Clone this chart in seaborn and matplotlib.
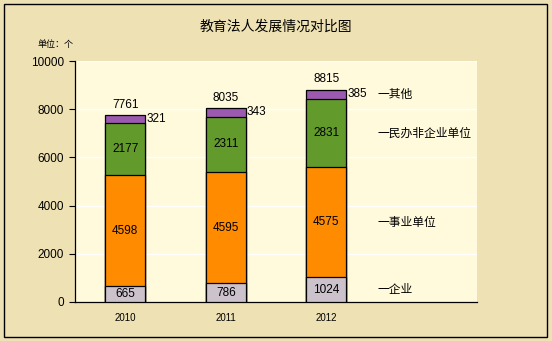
import matplotlib
matplotlib.use("Agg")
import matplotlib.pyplot as plt
import seaborn as sns
import numpy as np
import pandas as pd
from matplotlib.patches import Rectangle

years = ["2010", "2011", "2012"]
enterprise = [665, 786, 1024]          # 企业
institution = [4598, 4595, 4575]       # 事业单位
private_nonent = [2177, 2311, 2831]    # 民办非企业单位
other = [321, 343, 385]                # 其他
totals = [7761, 8035, 8815]
series_names = ["企业", "事业单位", "民办非企业单位", "其他"]
colors = ["#CCC2CC", "#FF8C00", "#639A2C", "#9B59B0"]
title = "教育法人发展情况对比图"
unit = "单位：个"

sns.set_theme(style="white")
plt.rcParams["font.family"] = ["Liberation Sans", "Noto Sans CJK SC"]
plt.rcParams["text.color"] = "black"
plt.rcParams["xtick.color"] = "black"
plt.rcParams["ytick.color"] = "black"
plt.rcParams["xtick.labelcolor"] = "black"
plt.rcParams["ytick.labelcolor"] = "black"

fig = plt.figure(figsize=(5.52, 3.41), dpi=100)
fig.patch.set_facecolor("#EEE2B4")
fig.patches.append(Rectangle((4/552, 4/341), 543/552, 333/341, transform=fig.transFigure,
                             fill=False, edgecolor="black", linewidth=1.0))
ax = fig.add_axes([75/552, 1-302/341, 402/552, 241/341])
ax.set_facecolor("#FFFADC")

series = [enterprise, institution, private_nonent, other]
cum = np.cumsum(np.array(series), axis=0)
df = pd.DataFrame({"year": years})
# draw from tallest cumulative down
for i in range(len(series) - 1, -1, -1):
    df["v"] = cum[i]
    sns.barplot(data=df, x="year", y="v", color=colors[i], width=0.4,
                edgecolor="black", linewidth=0.9, saturation=1, ax=ax, zorder=3)

ax.set_xlim(-0.5, 3.5)
ax.set_ylim(0, 10000)
ax.set_yticks(np.arange(0, 10001, 2000))
ax.set_yticklabels([str(v) for v in range(0, 10001, 2000)], fontsize=8.5)
ax.yaxis.grid(True, color="white", linewidth=1)
ax.set_axisbelow(True)
ax.set_xticks(range(3))
ax.set_xticklabels(years, fontsize=7)
ax.set_xticks(np.arange(-0.5, 3.6, 1), minor=True)
ax.tick_params(axis="x", which="major", length=0, pad=8)
ax.tick_params(axis="x", which="minor", length=4, direction="in", width=0.8, color="black")
ax.tick_params(axis="y", length=4, direction="out", width=0.8, color="black", left=True, pad=4)
ax.set_xlabel("")
ax.set_ylabel("")
for s in ["top", "right"]:
    ax.spines[s].set_visible(False)
for s in ["left", "bottom"]:
    ax.spines[s].set_color("black")
    ax.spines[s].set_linewidth(0.9)

# segment labels
for j in range(3):
    base = 0
    for i in range(3):
        mid = base + series[i][j] / 2
        ax.text(j, mid, str(series[i][j]), ha="center", va="center", fontsize=8.5, zorder=5)
        base += series[i][j]
    ax.text(j + 0.21, base + other[j] / 2, str(other[j]), ha="left", va="center", fontsize=8.5, zorder=5)
    ax.annotate(str(totals[j]), (j, totals[j]), xytext=(0, 3), textcoords="offset points",
                ha="center", va="bottom", fontsize=8.5)

# series labels at the empty 4th slot, aligned with 2012 segments
base = 0
for i in range(4):
    mid = base + series[i][2] / 2
    base += series[i][2]
    ax.text(2.51, mid, "一" + series_names[i], ha="left", va="center", fontsize=8.5,
            family=["Noto Sans CJK SC"])

fig.text(0.5, 1 - 27/341, title, ha="center", va="center", fontsize=10,
         family=["Noto Sans CJK SC"])
fig.text(38/552, 1 - 44/341, unit, ha="left", va="center", fontsize=6.5,
         family=["Noto Sans CJK SC"])

fig.savefig("out.png", dpi=100, facecolor=fig.get_facecolor())
